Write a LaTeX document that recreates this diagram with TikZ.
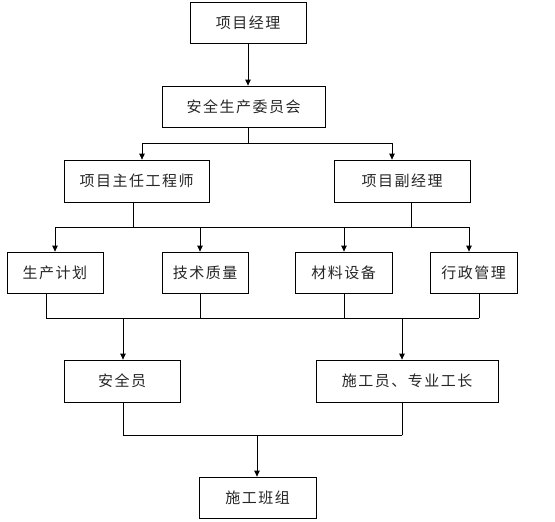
\documentclass[tikz,border=0pt]{standalone}
\usepackage{fontspec}
\newfontfamily\cjk{Noto Sans CJK SC}[LetterSpace=10]
\usetikzlibrary{arrows.meta}
\tikzset{box/.style={draw,inner sep=0pt,minimum height=41pt,text=black!85}}
\begin{document}
\begin{tikzpicture}[x=1pt,y=-1pt,>={Triangle[length=6pt,width=5.5pt]},line width=.8pt,line cap=rect,font=\cjk\fontsize{15}{18}\selectfont]
  \useasboundingbox (0,0) rectangle (555,522);
  % boxes
  \node[box,minimum width=116pt] (pm) at (248,22.5) {项目经理};
  \node[box,minimum width=163pt] (sc) at (243.5,106.5) {安全生产委员会};
  \node[box,minimum width=145pt,minimum height=42pt] (ce) at (136.5,181) {项目主任工程师};
  \node[box,minimum width=136pt,minimum height=42pt] (dm) at (402,181) {项目副经理};
  \node[box,minimum width=96pt] (plan) at (55,272.5) {生产计划};
  \node[box,minimum width=86pt] (tech) at (205,272.5) {技术质量};
  \node[box,minimum width=97pt] (mat) at (343.5,272.5) {材料设备};
  \node[box,minimum width=87pt] (adm) at (473.5,272.5) {行政管理};
  \node[box,minimum width=116pt,minimum height=42pt] (safe) at (122,381) {安全员};
  \node[box,minimum width=182pt,minimum height=42pt] (crew) at (407,381) {施工员、专业工长};
  \node[box,minimum width=117pt] (team) at (257.5,497.5) {施工班组};
  % bus points
  \coordinate (s1) at (248,143);
  \coordinate (s1l) at (142,143); \coordinate (s1r) at (392,143);
  \coordinate (s2l) at (55,227); \coordinate (s2r) at (469,227);
  \coordinate (s2a) at (133,227); \coordinate (s2b) at (411,227);
  \coordinate (s2c) at (200,227); \coordinate (s2d) at (344,227);
  \coordinate (s3l) at (46,318); \coordinate (s3r) at (479,318);
  \coordinate (s3a) at (200,318); \coordinate (s3b) at (344,318);
  \coordinate (s3c) at (123,318); \coordinate (s3d) at (402,318);
  \coordinate (s4l) at (123,435); \coordinate (s4r) at (402,435);
  \coordinate (s4) at (257,435);
  % top
  \draw[->] (pm.south) -- (pm.south |- sc.north);
  \draw (s1 |- sc.south) -- (s1);
  \draw (s1l) -- (s1r);
  \draw[->] (s1l) -- (s1l |- ce.north);
  \draw[->] (s1r) -- (s1r |- dm.north);
  % second row
  \draw (s2a |- ce.south) -- (s2a);
  \draw (s2b |- dm.south) -- (s2b);
  \draw (s2l) -- (s2r);
  \foreach \p/\n in {s2l/plan,s2c/tech,s2d/mat,s2r/adm}
    \draw[->] (\p) -- (\p |- \n.north);
  % third row
  \foreach \p/\n in {s3l/plan,s3a/tech,s3b/mat,s3r/adm}
    \draw (\p |- \n.south) -- (\p);
  \draw (s3l) -- (s3r);
  \draw[->] (s3c) -- (s3c |- safe.north);
  \draw[->] (s3d) -- (s3d |- crew.north);
  % bottom
  \draw (s4l |- safe.south) -- (s4l);
  \draw (s4r |- crew.south) -- (s4r);
  \draw (s4l) -- (s4r);
  \draw[->] (s4) -- (s4 |- team.north);
\end{tikzpicture}
\end{document}
